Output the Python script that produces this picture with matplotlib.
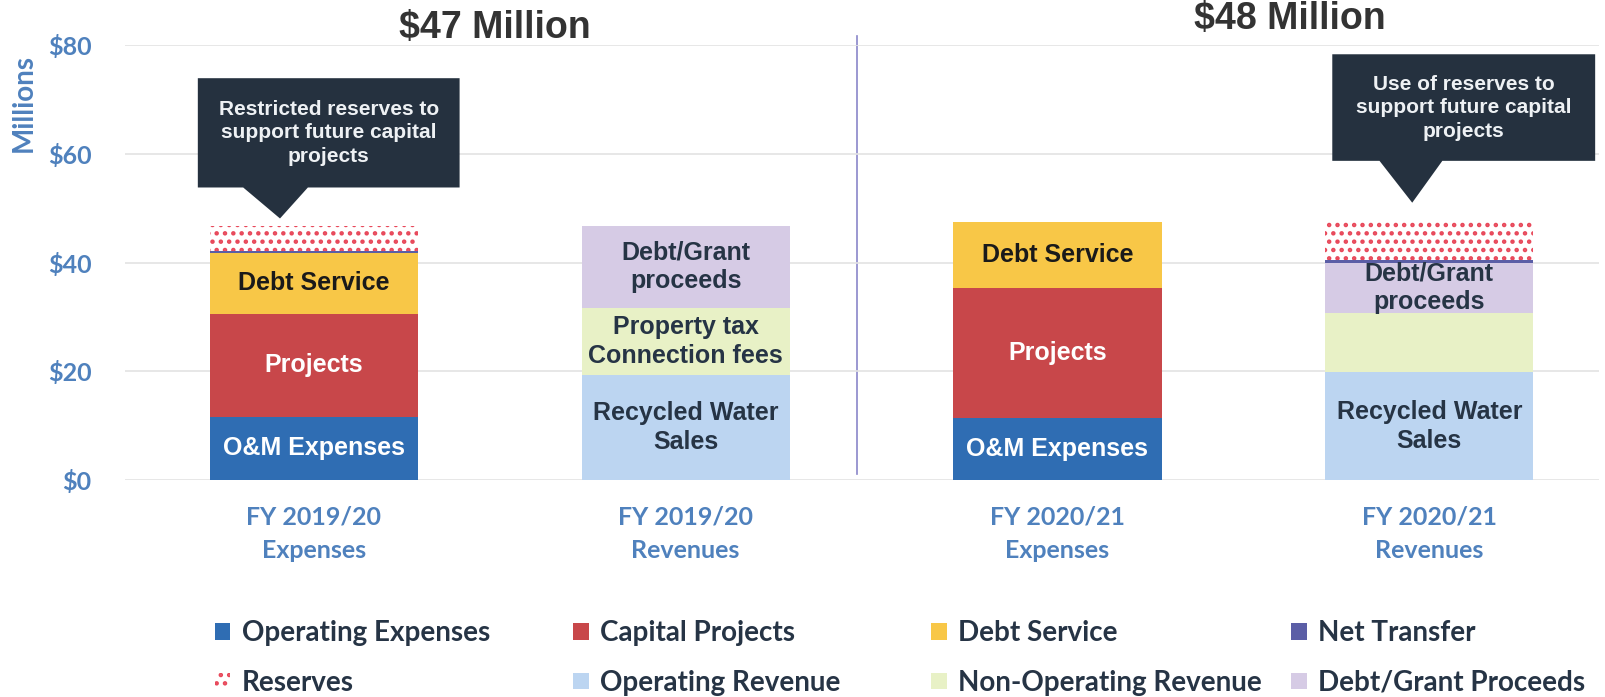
import numpy as np
import matplotlib.pyplot as plt
from matplotlib.patches import Polygon, Patch

# 데이터 (백만 달러)
bar_labels = ['FY 2019/20\nExpenses', 'FY 2019/20\nRevenues',
              'FY 2020/21\nExpenses', 'FY 2020/21\nRevenues']
op_expenses = [11.6, 0, 11.4, 0]
capital_projects = [19.0, 0, 24.0, 0]
debt_service = [11.1, 0, 12.1, 0]
op_revenue = [0, 19.3, 0, 19.8]
nonop_revenue = [0, 12.4, 0, 11.0]
debt_grant = [0, 15.0, 0, 9.2]
net_transfer = [0.4, 0, 0, 0.5]
reserves = [4.7, 0, 0, 7.0]
totals_text = ['$47 Million', '$48 Million']

# 각 막대 안의 문구
seg_text = {
    'op_expenses': ['O&M Expenses', '', 'O&M Expenses', ''],
    'capital_projects': ['Projects', '', 'Projects', ''],
    'debt_service': ['Debt Service', '', 'Debt Service', ''],
    'op_revenue': ['', 'Recycled Water\nSales', '', 'Recycled Water\nSales'],
    'nonop_revenue': ['', 'Property tax\nConnection fees', '', ''],
    'debt_grant': ['', 'Debt/Grant\nproceeds', '', 'Debt/Grant\nproceeds'],
}
callout_text = ['Restricted reserves to\nsupport future capital\nprojects',
                'Use of reserves to\nsupport future capital\nprojects']

plt.rcParams['font.family'] = ['Lato', 'DejaVu Sans']
plt.rcParams['hatch.linewidth'] = 2.0

BLUE_TXT = '#4f81bd'
DARK_TXT = '#263445'

fig = plt.figure(figsize=(16.06, 6.97), dpi=100)
ax = fig.add_axes([0.0778, 0.3113, 0.918, 0.6241])

x = np.arange(len(bar_labels))
w = 0.56

series = [
    ('op_expenses', op_expenses, '#2f6db3', 'white'),
    ('op_revenue', op_revenue, '#bcd5f1', DARK_TXT),
    ('capital_projects', capital_projects, '#c8474a', 'white'),
    ('nonop_revenue', nonop_revenue, '#e8f1c6', DARK_TXT),
    ('debt_service', debt_service, '#f8c747', '#1a1a1a'),
    ('debt_grant', debt_grant, '#d6cbe5', DARK_TXT),
]

bottom = np.zeros(len(x))
for key, vals, col, tcol in series:
    vals = np.array(vals, dtype=float)
    ax.bar(x, vals, w, bottom=bottom, color=col, linewidth=0, zorder=2)
    for i, t in enumerate(seg_text[key]):
        if t and vals[i] > 0:
            ax.text(x[i], bottom[i] + vals[i] / 2, t, ha='center', va='center',
                    color=tcol, fontsize=18, fontweight='bold',
                    family='Liberation Sans', linespacing=1.25, zorder=4)
    bottom += vals

nt = np.array(net_transfer, dtype=float)
ax.bar(x, nt, w, bottom=bottom, color='#5b5ea6', linewidth=0, zorder=2)
bottom += nt
ax.bar(x, reserves, w, bottom=bottom, color='white', edgecolor='#e8485a',
       hatch='..', linewidth=0, zorder=2)

# 축 설정
ax.set_xlim(-0.508, 3.457)
ax.set_ylim(0, 80)
ax.set_yticks([0, 20, 40, 60, 80])
ax.set_yticklabels(['$0', '$20', '$40', '$60', '$80'])
ax.tick_params(axis='y', length=0, pad=24, labelsize=18, labelcolor=BLUE_TXT)
for lab in ax.get_yticklabels():
    lab.set_fontweight('bold')
ax.set_xticks(x)
ax.set_xticklabels(bar_labels, fontsize=18, fontweight='bold', color=BLUE_TXT,
                   linespacing=1.6)
ax.tick_params(axis='x', length=0, pad=18)
ax.grid(axis='y', color='#e3e3e3', linewidth=1.2, zorder=0)
for s in ax.spines.values():
    s.set_visible(False)

fig.text(0.0145, 0.852, 'Millions', rotation=90, ha='center', va='center',
         fontsize=20, fontweight='bold', color=BLUE_TXT)

# 구분선
ax.axvline(1.462, ymin=0.014, ymax=1.02, color='#8a86c9', linewidth=1.2,
           clip_on=False, zorder=1)

# 제목
fig.text(0.308, 0.96, totals_text[0], ha='center', va='center', fontsize=27,
         fontweight='bold', family='Liberation Sans', color='#333333')
fig.text(0.803, 0.973, totals_text[1], ha='center', va='center', fontsize=27,
         fontweight='bold', family='Liberation Sans', color='#333333')


# 말풍선
def callout(x0, x1, y0, y1, bx0, bx1, tx, ty, text):
    pts = [(x0, y0), (bx0, y0), (tx, ty), (bx1, y0), (x1, y0), (x1, y1), (x0, y1)]
    ax.add_patch(Polygon(pts, closed=True, facecolor='#25313f', edgecolor='none',
                         clip_on=False, zorder=5))
    ax.text((x0 + x1) / 2, (y0 + y1) / 2, text, ha='center', va='center',
            color='#eef1f4', fontsize=15, fontweight='bold', family='Liberation Sans',
            linespacing=1.3, zorder=6, clip_on=False)


callout(-0.312, 0.392, 53.8, 73.9, -0.19, -0.016, -0.091, 48.1, callout_text[0])
callout(2.739, 3.446, 58.7, 78.3, 2.866, 3.035, 2.954, 51.0, callout_text[1])

# 범례 (열마다 하나씩)
leg_cols = [
    [('Operating Expenses', dict(facecolor='#2f6db3')),
     ('Reserves', dict(facecolor='white', edgecolor='#e8485a', hatch='..', linewidth=0))],
    [('Capital Projects', dict(facecolor='#c8474a')),
     ('Operating Revenue', dict(facecolor='#bcd5f1'))],
    [('Debt Service', dict(facecolor='#f8c747')),
     ('Non-Operating Revenue', dict(facecolor='#e8f1c6'))],
    [('Net Transfer', dict(facecolor='#5b5ea6')),
     ('Debt/Grant Proceeds', dict(facecolor='#d6cbe5'))],
]
leg_x = [0.134, 0.357, 0.58, 0.804]
for lx, col in zip(leg_x, leg_cols):
    handles = [Patch(label=n, **kw) for n, kw in col]
    leg = fig.legend(handles=handles, loc='upper left', bbox_to_anchor=(lx, 0.11),
                     frameon=False, borderpad=0, borderaxespad=0,
                     handlelength=0.55, handleheight=0.55, handletextpad=0.4,
                     labelspacing=0.85, prop={'family': 'Lato', 'weight': 'bold', 'size': 20})
    for t in leg.get_texts():
        t.set_color(DARK_TXT)

fig.savefig('out.png', dpi=100, facecolor='white')
